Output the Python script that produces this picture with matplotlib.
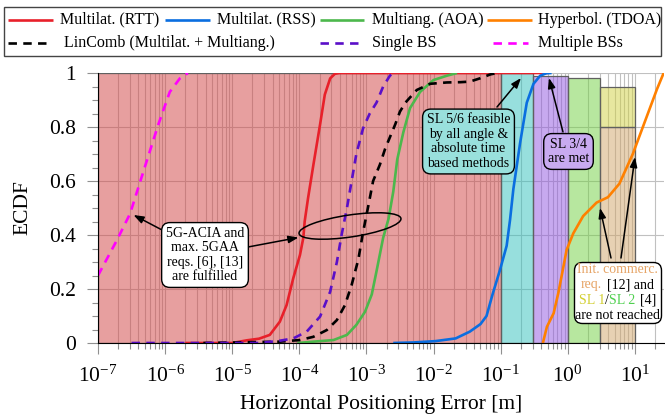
import numpy as np
import matplotlib
matplotlib.use("Agg")
import matplotlib.pyplot as plt
from matplotlib.patches import Rectangle, Ellipse
from matplotlib.lines import Line2D
from matplotlib.offsetbox import TextArea, HPacker, VPacker, AnnotationBbox
from matplotlib.ticker import LogLocator, MultipleLocator, FixedLocator

plt.rcParams['font.family'] = ['Liberation Serif', 'DejaVu Serif']
plt.rcParams['mathtext.fontset'] = 'stix'

# ---------------- data (log10 of error in m, ECDF) ----------------
rtt_logx = [-5.7, -5.0, -4.78, -4.6, -4.44, -4.29, -4.19, -4.09, -3.99, -3.94, -3.92,
            -3.87, -3.79, -3.69, -3.62, -3.54, -3.47, -3.4, -0.3]
rtt_y = [0.0, 0.0, 0.01, 0.016, 0.03, 0.079, 0.14, 0.24, 0.326, 0.39, 0.45,
         0.536, 0.66, 0.81, 0.92, 0.98, 0.997, 1.0, 1.0]

rss_logx = [-2.6, -2.3, -1.97, -1.67, -1.46, -1.3, -1.21, -1.12, -1.01, -0.91, -0.86,
            -0.81, -0.71, -0.61, -0.51, -0.41, -0.32, -0.24]
rss_y = [0.0, 0.002, 0.007, 0.017, 0.042, 0.07, 0.1, 0.18, 0.27, 0.36, 0.455,
         0.57, 0.74, 0.89, 0.96, 0.99, 0.999, 1.0]

aoa_logx = [-4.03, -3.79, -3.49, -3.29, -3.15, -3.02, -2.92, -2.85, -2.75, -2.67, -2.6,
            -2.54, -2.45, -2.35, -2.2, -2.0, -1.8, -1.65]
aoa_y = [0.0, 0.005, 0.011, 0.03, 0.067, 0.116, 0.18, 0.265, 0.39, 0.46, 0.56,
         0.68, 0.78, 0.87, 0.93, 0.974, 0.99, 1.0]

tdoa_logx = [-0.37, -0.31, -0.21, -0.14, -0.066, -0.016, 0.083, 0.23, 0.43, 0.6, 0.77,
             0.97, 1.18, 1.33, 1.43]
tdoa_y = [0.0, 0.06, 0.11, 0.185, 0.28, 0.345, 0.406, 0.47, 0.52, 0.54, 0.59,
          0.70, 0.84, 0.94, 1.0]

lincomb_logx = [-5.43, -4.29, -3.99, -3.79, -3.59, -3.44, -3.32, -3.22, -3.12, -3.05, -2.97,
                -2.9, -2.8, -2.72, -2.57, -2.5, -2.42, -2.25, -2.05, -1.8, -1.6, -1.46,
                -1.31, -1.15, -1.05]
lincomb_y = [0.0, 0.005, 0.011, 0.023, 0.048, 0.085, 0.14, 0.215, 0.31, 0.41, 0.51,
             0.6, 0.66, 0.72, 0.81, 0.857, 0.89, 0.937, 0.96, 0.965, 0.966, 0.968,
             0.98, 0.995, 1.0]

single_logx = [-6.5, -4.6, -4.3, -4.09, -3.89, -3.69, -3.54, -3.44, -3.37, -3.29, -3.22,
               -3.15, -3.05, -2.95, -2.85, -2.75, -2.65, -2.6]
single_y = [0.0, 0.0, 0.008, 0.017, 0.042, 0.098, 0.19, 0.30, 0.40, 0.50, 0.60,
            0.70, 0.795, 0.85, 0.89, 0.95, 0.99, 1.0]

multi_logx = [-7.0, -6.72, -6.52, -6.47, -6.33, -6.1, -5.93, -5.78, -5.66]
multi_y = [0.25, 0.38, 0.48, 0.52, 0.63, 0.81, 0.93, 0.98, 1.0]

# requirement regions: (x_start, x_end, y_start, y_end)
region_bounds = [(1e-7, 0.1, 0.0, 1.0),
                 (0.1, 0.3, 0.0, 1.0),
                 (0.3, 1.0, 0.0, 0.99),
                 (1.0, 3.0, 0.0, 0.98),
                 (3.0, 10.0, 0.0, 0.8),
                 (3.0, 10.0, 0.8, 0.95)]
region_colors = [(209, 65, 65), (49, 193, 189), (145, 85, 225),
                 (113, 209, 65), (209, 165, 105), (209, 209, 65)]

xtick_vals = [1e-7, 1e-6, 1e-5, 1e-4, 1e-3, 1e-2, 1e-1, 1e0, 1e1]
ytick_vals = [0, 0.2, 0.4, 0.6, 0.8, 1.0]
ytick_labels = ['0', '0.2', '0.4', '0.6', '0.8', '1']

# ---------------- figure ----------------
W, H = 665, 417
fig = plt.figure(figsize=(W / 100, H / 100), dpi=100)
ax = fig.add_axes([98 / W, (H - 343) / H, 566 / W, 270 / H])
ax.set_xscale('log')
ax.set_xlim(1e-7, 10 ** 1.435)
ax.set_ylim(0, 1)

gridc = '#c0c0c0'
ax.set_axisbelow(True)
ax.grid(True, which='major', axis='both', color=gridc, lw=0.8)
ax.grid(True, which='minor', axis='x', color=gridc, lw=0.8)

for (x0, x1, y0, y1), c in zip(region_bounds, region_colors):
    fc = (c[0] / 255, c[1] / 255, c[2] / 255, 0.5)
    ax.add_patch(Rectangle((x0, y0), x1 - x0, y1 - y0, facecolor=fc,
                           edgecolor='#606060', lw=0.9, zorder=1.5))

lw = 1.9
dash = (3.2, 2.4)
series = [
    (rtt_logx, rtt_y, '#e8202a', None),
    (rss_logx, rss_y, '#0a6ee0', None),
    (aoa_logx, aoa_y, '#4cb84c', None),
    (tdoa_logx, tdoa_y, '#ff8000', None),
    (lincomb_logx, lincomb_y, 'black', dash),
    (single_logx, single_y, '#5a0fc8', dash),
    (multi_logx, multi_y, '#ff00ff', dash),
]
for lx, yy, col, ds in series:
    ln, = ax.plot(10 ** np.array(lx), yy, color=col, lw=lw, zorder=3,
                  solid_capstyle='butt')
    if ds is not None:
        ln.set_dashes(ds)

# axes styling
for s in ['top', 'right']:
    ax.spines[s].set_visible(False)
ax.spines['left'].set_color('black')
ax.spines['bottom'].set_color('black')
ax.spines['left'].set_zorder(4)
ax.spines['bottom'].set_zorder(4)

ax.xaxis.set_major_locator(FixedLocator(xtick_vals))
ax.xaxis.set_minor_locator(LogLocator(base=10, subs=np.arange(2, 10), numticks=20))
ax.set_yticks(ytick_vals)
ax.set_yticklabels(ytick_labels)
ax.yaxis.set_minor_locator(MultipleLocator(0.05))
ax.tick_params(axis='both', which='major', direction='out', length=8,
               color='#909090', width=0.8, labelsize=15.5)
ax.tick_params(axis='both', which='minor', direction='out', length=4.3,
               color='#909090', width=0.8)
ax.tick_params(axis='x', which='major', pad=8)
ax.tick_params(axis='y', which='major', pad=8)
ax.set_xlabel('Horizontal Positioning Error [m]', fontsize=15.5, labelpad=6)
ax.set_ylabel('ECDF', fontsize=15.5, labelpad=12)

# ---------------- annotations ----------------
def fx(px):
    return (px - 98) / 566

def fy(py):
    return (343 - py) / 270

afs = 10
boxkw = dict(boxstyle='round,pad=0.3,rounding_size=0.6', lw=1, ec='black')
arrowkw = dict(arrowstyle='-|>,head_length=0.6,head_width=0.22', color='black',
               lw=1.1, shrinkA=0, shrinkB=0)

def arrow(tail, tip):
    ax.annotate('', xy=(fx(tip[0]), fy(tip[1])), xycoords='axes fraction',
                xytext=(fx(tail[0]), fy(tail[1])), textcoords='axes fraction',
                arrowprops=arrowkw, zorder=6)

ax.text(fx(205), fy(255), '5G-ACIA and\nmax. 5GAA\nreqs. [6], [13]\nare fulfilled',
        transform=ax.transAxes, ha='center', va='center', fontsize=afs,
        linespacing=1.15, bbox=dict(fc='white', **boxkw), zorder=7)
arrow((164, 231), (133.5, 215))
arrow((248, 247), (298.5, 237.5))

ell = Ellipse((3.50, (H - 226) / 100), 1.03, 0.22, angle=8.4,
              transform=fig.dpi_scale_trans, fill=False, ec='black', lw=1.1, zorder=6)
ax.add_patch(ell)

ax.text(fx(468.5), fy(141.5), 'SL 5/6 feasible\nby all angle &\nabsolute time\nbased methods',
        transform=ax.transAxes, ha='center', va='center', fontsize=afs,
        linespacing=1.15, bbox=dict(fc='#99e0dc', **boxkw), zorder=7)
arrow((497, 107), (521, 78))

ax.text(fx(568.5), fy(151.5), 'SL 3/4\nare met',
        transform=ax.transAxes, ha='center', va='center', fontsize=afs,
        linespacing=1.15, bbox=dict(fc='#c8aaf0', **boxkw), zorder=7)
arrow((563, 132), (549, 78))

tp = dict(fontsize=afs, family=['Liberation Serif', 'DejaVu Serif'])
tan = '#e6a466'
yel = '#d2cf30'
grn = '#4fd04f'
def ta(s, c='black'):
    return TextArea(s, textprops=dict(color=c, **tp))
row1 = HPacker(children=[ta('Init. commerc.', tan)], sep=0, pad=0, align='baseline')
row2 = HPacker(children=[ta('req.', tan), ta('[12] and')], sep=3.5, pad=0, align='baseline')
sl = HPacker(children=[ta('SL 1', yel), ta('/'), ta('SL 2', grn)], sep=0, pad=0, align='baseline')
row3 = HPacker(children=[sl, ta('[4]')], sep=3.5, pad=0, align='baseline')
row4 = HPacker(children=[ta('are not reached')], sep=0, pad=0, align='baseline')
vp = VPacker(children=[row1, row2, row3, row4], sep=1.5, pad=0, align='center')
ab = AnnotationBbox(vp, (fx(617.5), fy(292.5)), xycoords='axes fraction',
                    box_alignment=(0.5, 0.5), frameon=True, pad=0.3,
                    bboxprops=dict(boxstyle='round,pad=0.1,rounding_size=0.6',
                                   fc='white', ec='black', lw=1), zorder=7)
ax.add_artist(ab)
arrow((611, 258), (600, 208))
arrow((621, 258), (635, 157))

# ---------------- legend (manual, figure pixels) ----------------
def FX(px):
    return px / W

def FY(py):
    return 1 - py / H

fig.add_artist(Rectangle((FX(4), FY(56)), (661 - 4) / W, (56 - 6.7) / H,
                         transform=fig.transFigure, fill=False, ec='#444444', lw=1))
legend_labels = ['Multilat. (RTT)', 'Multilat. (RSS)', 'Multiang. (AOA)', 'Hyperbol. (TDOA)',
                 'LinComb (Multilat. + Multiang.)', 'Single BS', 'Multiple BSs']
leg_pos = [((8, 53), 60, 19.5), ((165, 210), 217, 19.5), ((320, 364), 372, 19.5),
           ((487, 532), 538, 19.5), ((8, 48), 64, 43), ((320, 360), 372, 43),
           ((493, 528), 538, 43)]
for (lx, yy, col, ds), lab, ((h0, h1), tx, ty) in zip(series, legend_labels, leg_pos):
    l = Line2D([FX(h0), FX(h1)], [FY(ty), FY(ty)], transform=fig.transFigure,
               color=col, lw=lw, solid_capstyle='butt')
    if ds is not None:
        l.set_dashes(ds)
    fig.add_artist(l)
    fig.text(FX(tx), FY(ty), lab, fontsize=11.5, ha='left', va='center')

fig.savefig('out.png', dpi=100)
